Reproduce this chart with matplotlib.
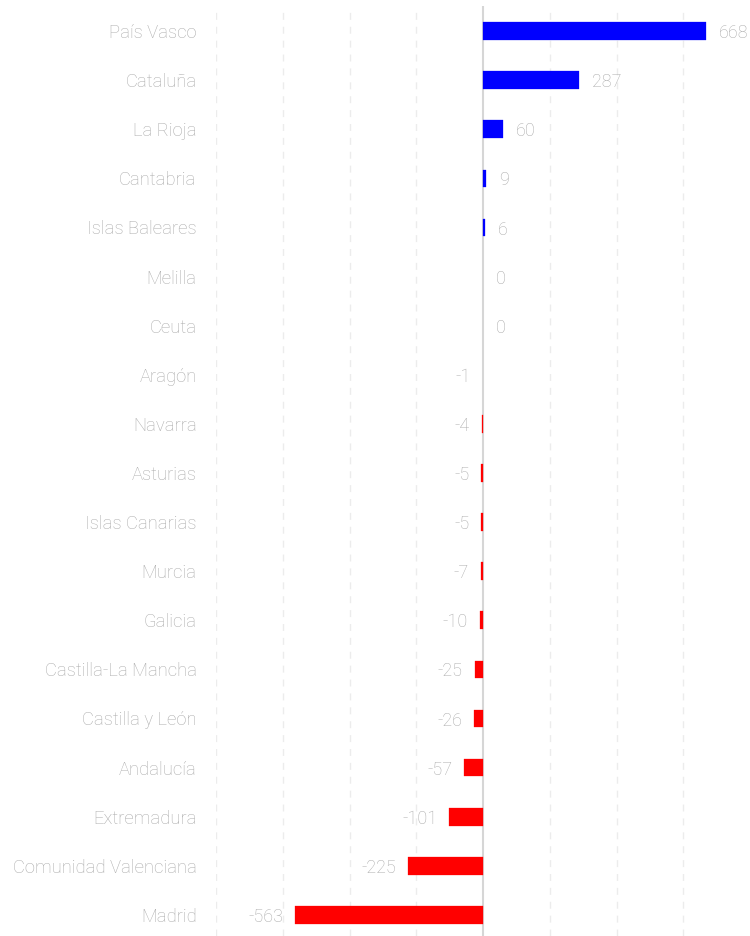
import matplotlib
matplotlib.use('Agg')
import matplotlib.pyplot as plt

regions = ["País Vasco", "Cataluña", "La Rioja", "Cantabria", "Islas Baleares",
           "Melilla", "Ceuta", "Aragón", "Navarra", "Asturias", "Islas Canarias",
           "Murcia", "Galicia", "Castilla-La Mancha", "Castilla y León",
           "Andalucía", "Extremadura", "Comunidad Valenciana", "Madrid"]
values = [668, 287, 60, 9, 6, 0, 0, -1, -4, -5, -5, -7, -10, -25, -26, -57, -101, -225, -563]
grid_ticks = [-800, -600, -400, -200, 200, 400, 600]

plt.rcParams['font.family'] = ['Roboto', 'DejaVu Sans']
text_color = '#ababab'

fig = plt.figure(figsize=(7.5, 9.36), dpi=100)
ax = fig.add_axes([0.288, 0.0, 0.712, 930 / 936])

y = list(range(len(regions)))
colors = ['#0000ff' if v > 0 else '#ff0000' for v in values]
widths = [0 if abs(v) <= 1 else 0.2 for v in values]
ax.barh(y, values, height=0.36, color=colors, edgecolor=colors, linewidth=widths, zorder=3)

for yi, v in zip(y, values):
    if v >= 0:
        ax.annotate(str(v), (v, yi), xytext=(9.5, -1.5), textcoords='offset points',
                    ha='left', va='center', fontsize=13, color=text_color,
                    fontweight='light')
    else:
        ax.annotate(str(v), (v, yi), xytext=(-8.5, -1.5), textcoords='offset points',
                    ha='right', va='center', fontsize=13, color=text_color,
                    fontweight='light')

for g in grid_ticks:
    ax.axvline(g, color='#ececec', linestyle=(0, (5, 5)), linewidth=1, zorder=1)
ax.axvline(0, color='#d6d6d6', linewidth=1.5, zorder=2)

ax.set_xlim(-800, 800)
ax.set_ylim(18.43, -0.51)
ax.set_yticks(y)
ax.set_yticklabels(regions, fontsize=13.3, color=text_color, fontweight='light')
ax.tick_params(axis='y', length=0, pad=14)
ax.set_xticks([])
for s in ax.spines.values():
    s.set_visible(False)

fig.savefig('out.png', dpi=100)
